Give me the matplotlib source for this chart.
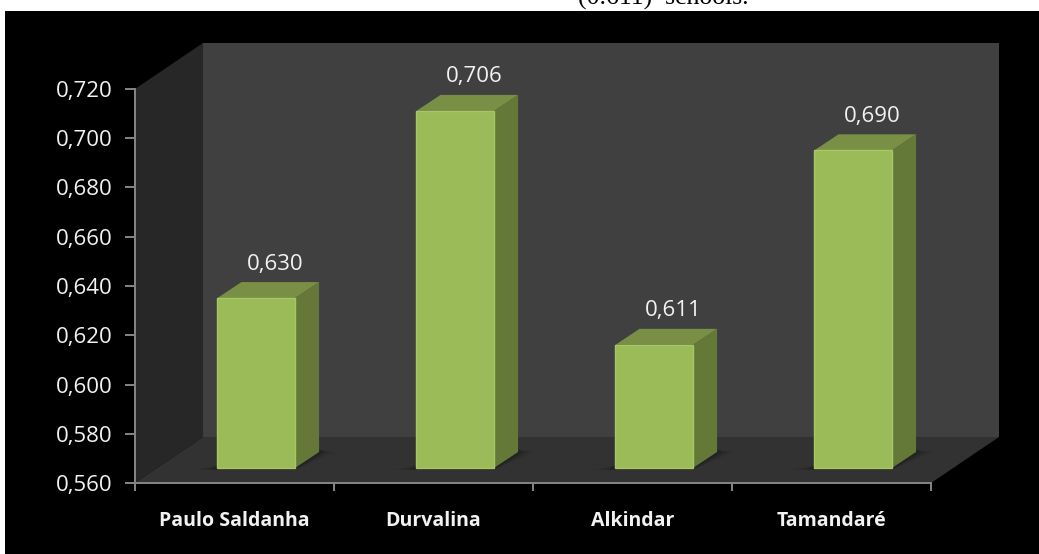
import matplotlib
matplotlib.use('Agg')
import matplotlib.pyplot as plt
from matplotlib.patches import Polygon, Rectangle

categories = ['Paulo Saldanha', 'Durvalina', 'Alkindar', 'Tamandaré']
values = [0.630, 0.706, 0.611, 0.690]
value_labels = ['0,630', '0,706', '0,611', '0,690']
y_ticks = [0.560, 0.580, 0.600, 0.620, 0.640, 0.660, 0.680, 0.700, 0.720]
y_tick_labels = ['0,560', '0,580', '0,600', '0,620', '0,640', '0,660', '0,680', '0,700', '0,720']

W, H = 1039, 554
plt.rcParams['font.family'] = ['Open Sans', 'DejaVu Sans']

fig = plt.figure(figsize=(W / 100, H / 100), dpi=100, facecolor='white')

# black slide behind the chart
fig.add_artist(Rectangle((5 / W, 0), 1 - 5 / W, 1 - 11 / H, transform=fig.transFigure,
                         facecolor='black', edgecolor='none', zorder=-5))
fig.text(578 / W, 1 - 5 / H, '(0.611)  schools.', family='Liberation Serif', fontsize=18.5,
         color='black', ha='left', va='baseline')

ax = fig.add_axes([135 / W, 1 - 483 / H, (931 - 135) / W, (483 - 89) / H])
ax.patch.set_visible(False)
ax.set_xlim(0, 4)
ax.set_ylim(0.56, 0.72)

# depth of the fake 3d box, in data units
dx = 0.342
dy = 0.0187
ymin, ymax = 0.56, 0.72


def poly(pts, color, z, **kw):
    ax.add_patch(Polygon(pts, closed=True, facecolor=color, edgecolor='none', zorder=z,
                         clip_on=False, **kw))


# back wall, side wall, floor
poly([(dx, ymin + dy), (4 + dx, ymin + dy), (4 + dx, ymax + dy), (dx, ymax + dy)], '#404040', 1)
poly([(0, ymin), (dx, ymin + dy), (dx, ymax + dy), (0, ymax)], '#272727', 1)
poly([(0, ymin), (4, ymin), (4 + dx, ymin + dy), (dx, ymin + dy)], '#323232', 1)

# bars sit a third of the way into the box
bar_w = 0.39
off_x = 0.109
off_y = 0.0061
bar_dx = 0.121
bar_dy = 0.0065

for i, v in enumerate(values):
    x0 = i + 0.5 + off_x - bar_w / 2
    x1 = x0 + bar_w
    y0 = ymin + off_y
    y1 = v + off_y - 0.001
    # soft shadow on the floor
    for k, a in enumerate([0.06, 0.10, 0.16]):
        g = 0.04 * (3 - k)
        poly([(x0 - g, y0 - 0.0007), (x1, y0 - 0.0007), (x1 + bar_dx + g * 0.7, y0 + bar_dy),
              (x1 + bar_dx, y0 + bar_dy + 0.001), (x0, y0 + 0.001)], 'black', 2, alpha=a)
    ax.bar(i + 0.5 + off_x, y1 - y0, width=bar_w, bottom=y0, color='#9BBB59', edgecolor='#A6C763',
           linewidth=1.0, zorder=4)
    poly([(x1, y0), (x1 + bar_dx, y0 + bar_dy), (x1 + bar_dx, y1 + bar_dy), (x1, y1)], '#647838', 3)
    poly([(x0, y1), (x1, y1), (x1 + bar_dx, y1 + bar_dy), (x0 + bar_dx, y1 + bar_dy)], '#788F45', 3)
    ax.text(i + 0.5 + off_x + bar_dx / 2 + 0.036, y1 + bar_dy + 0.0073, value_labels[i], color='#F2F2F2',
            fontsize=16, ha='center', va='center', zorder=5)

for s in ['top', 'right']:
    ax.spines[s].set_visible(False)
for s in ['left', 'bottom']:
    ax.spines[s].set_color('#868686')
    ax.spines[s].set_linewidth(1.4)
    ax.spines[s].set_zorder(6)

ax.set_yticks(y_ticks)
ax.set_yticklabels(y_tick_labels, color='#F2F2F2', fontsize=16)
ax.set_xticks([0, 1, 2, 3, 4])
ax.set_xticklabels([])
ax.set_xticks([0.5, 1.5, 2.5, 3.5], minor=True)
ax.set_xticklabels(categories, minor=True, color='#F2F2F2', fontsize=14, fontweight='bold')
ax.tick_params(axis='x', which='minor', length=0, pad=20)
ax.tick_params(axis='x', which='major', length=6, width=1.4, color='#868686')
ax.tick_params(axis='y', length=7, width=1.4, color='#868686', pad=9)

fig.savefig('out.png', dpi=100, facecolor='white')
plt.close()
